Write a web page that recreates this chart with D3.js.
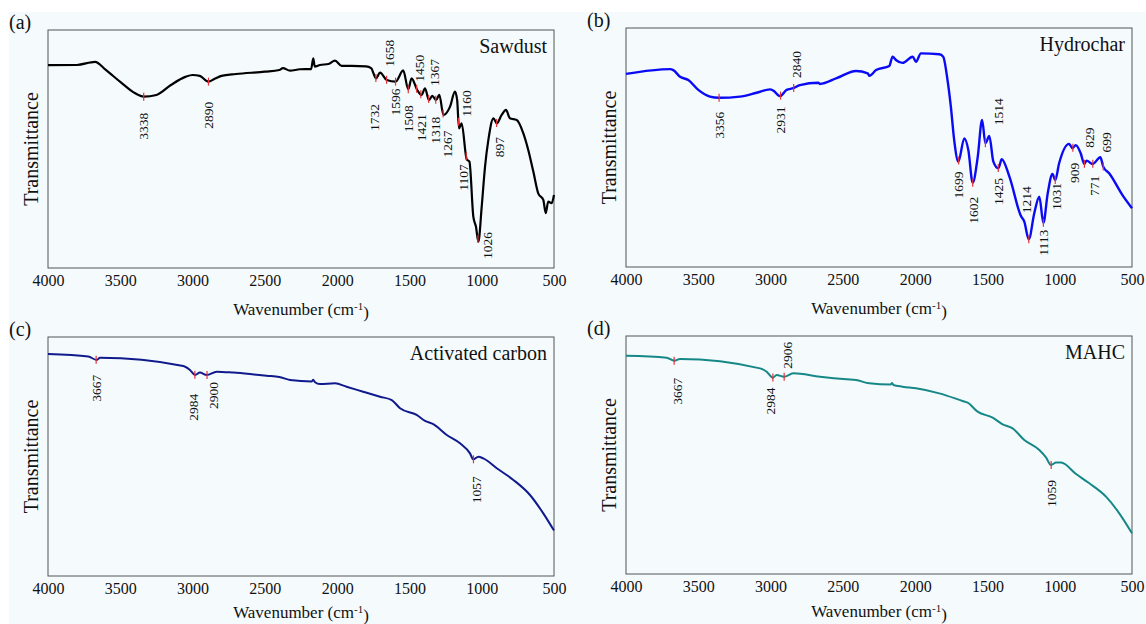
<!DOCTYPE html>
<html>
<head>
<meta charset="utf-8">
<script src="https://cdn.jsdelivr.net/npm/d3@7/dist/d3.min.js"></script>
<style>
  body { margin: 0; background: #fff; }
  text { font-family: "Liberation Serif", "Times New Roman", serif; fill: #111; }
</style>
</head>
<body>
<div id="chart"></div>
<script>
// x axis ticks (wavenumber, cm-1)
var xTicks = [4000, 3500, 3000, 2500, 2000, 1500, 1000, 500];

// (a) Sawdust
var sawdustWave = [4000, 3800, 3675, 3600, 3500, 3400, 3338, 3250, 3150, 3050, 3000, 2950, 2890, 2850, 2800, 2700, 2500, 2400, 2375, 2326, 2257, 2180, 2165, 2155, 2119, 2060, 2015, 1969, 1900, 1800, 1765, 1731, 1703, 1657, 1595, 1543, 1508, 1485, 1446, 1416, 1392, 1365, 1342, 1316, 1293, 1265, 1219, 1185, 1170, 1157, 1139, 1104, 1085, 1058, 1040, 1023, 1000, 977, 954, 919, 896, 862, 832, 805, 758, 712, 678, 643, 609, 574, 557, 540, 517, 500];
var sawdustT = [85.2, 85.3, 86.6, 83.2, 78.2, 73.5, 72.0, 72.7, 76.9, 80.3, 81.1, 80.7, 78.3, 79.4, 80.7, 81.5, 82.5, 83.2, 84.0, 82.9, 83.5, 83.6, 88.1, 84.6, 85.3, 85.7, 87.1, 84.9, 84.9, 84.7, 84.0, 79.7, 82.1, 79.0, 78.3, 83.0, 75.1, 79.7, 74.8, 72.7, 75.5, 70.6, 72.3, 70.6, 72.7, 64.3, 67.8, 74.1, 70.6, 58.7, 60.8, 45.7, 44.7, 21.6, 17.4, 11.1, 25.8, 42.6, 53.8, 62.9, 60.8, 64.3, 66.4, 62.9, 62.2, 56.6, 49.6, 40.5, 31.4, 28.6, 23.0, 27.9, 27.2, 30.7];
var sawdustPeaks = [3338, 2890, 1732, 1658, 1596, 1508, 1450, 1421, 1367, 1318, 1267, 1160, 1107, 1026, 897];

// (b) Hydrochar
var hydrocharWave = [4000, 3694, 3673, 3626, 3569, 3500, 3419, 3357, 3212, 3097, 3004, 2981, 2935, 2889, 2843, 2797, 2670, 2659, 2543, 2409, 2328, 2316, 2270, 2179, 2156, 2133, 2087, 2017, 1994, 1960, 1833, 1806, 1776, 1753, 1730, 1701, 1660, 1632, 1602, 1567, 1537, 1514, 1487, 1459, 1424, 1401, 1348, 1268, 1245, 1214, 1176, 1141, 1113, 1083, 1050, 1031, 1004, 935, 912, 889, 855, 830, 814, 772, 719, 699, 658, 566, 500];
var hydrocharT = [80.8, 82.8, 82.4, 79.6, 78.2, 74.1, 71.3, 70.8, 71.3, 72.9, 74.3, 73.8, 71.5, 74.1, 74.8, 76.1, 77.1, 76.6, 79.0, 82.0, 81.0, 80.0, 82.4, 84.1, 88.0, 86.6, 85.4, 88.0, 85.9, 89.4, 89.0, 88.0, 78.2, 67.1, 53.1, 44.1, 53.8, 48.9, 35.3, 46.1, 61.5, 51.8, 54.8, 44.1, 41.3, 45.1, 37.8, 21.3, 19.0, 11.6, 22.5, 29.4, 18.5, 30.8, 38.9, 36.4, 43.4, 51.5, 49.7, 51.0, 47.6, 43.1, 44.5, 43.1, 45.9, 42.0, 39.2, 30.1, 24.6];
var hydrocharPeaks = [3356, 2931, 2840, 1699, 1602, 1514, 1425, 1214, 1113, 1031, 909, 829, 771, 699];

// (c) Activated carbon
var carbonWave = [4000, 3721, 3663, 3640, 3064, 3018, 2983, 2949, 2902, 2833, 2718, 2603, 2488, 2400, 2326, 2175, 2165, 2155, 2119, 2015, 1935, 1820, 1703, 1622, 1565, 1450, 1392, 1335, 1242, 1150, 1081, 1058, 1023, 989, 896, 781, 666, 574, 500];
var carbonT = [92.9, 91.8, 90.4, 91.3, 87.9, 86.2, 84.1, 85.1, 84.1, 85.5, 85.1, 84.5, 83.8, 83.3, 82.0, 81.4, 82.1, 81.2, 80.3, 80.6, 79.2, 77.1, 75.0, 73.6, 70.2, 67.4, 64.9, 63.5, 59.0, 55.5, 51.3, 48.8, 49.9, 49.2, 45.1, 40.2, 33.9, 26.2, 19.0];
var carbonPeaks = [3667, 2984, 2900, 1057];

// (d) MAHC
var mahcWave = [4000, 3719, 3666, 3627, 3073, 3027, 2985, 2958, 2907, 2843, 2658, 2473, 2409, 2317, 2170, 2160, 2150, 2087, 1994, 1833, 1672, 1637, 1568, 1464, 1395, 1326, 1245, 1141, 1095, 1060, 1025, 991, 887, 795, 680, 588, 500];
var mahcT = [91.7, 90.9, 89.6, 90.3, 86.4, 85.0, 82.5, 83.6, 82.9, 84.3, 82.9, 81.8, 81.5, 80.1, 79.6, 80.3, 79.4, 78.7, 78.0, 75.9, 72.7, 72.0, 68.2, 65.7, 62.9, 61.2, 56.3, 52.1, 49.0, 45.8, 46.8, 46.8, 42.0, 38.1, 32.5, 25.5, 17.1];
var mahcPeaks = [3667, 2984, 2906, 1059];

// label placement next to each peak marker: [side (1 below, -1 above), dx, gap]
var sawdustLay = {3338:[1,0,16], 2890:[1,0,20], 1732:[1,-2,26], 1658:[-1,3,13], 1596:[1,0,7], 1508:[1,0,16], 1450:[-1,3,7], 1421:[1,0,20], 1367:[-1,6,13], 1318:[1,0,17], 1267:[1,4,17], 1160:[-1,8,5], 1107:[1,-3,8], 1026:[1,9,-7], 897:[1,3,14]};
var hydrocharLay = {3356:[1,0,14], 2931:[1,0,11], 2840:[-1,3,10], 1699:[1,0,11], 1602:[1,1,14], 1514:[-1,13,18], 1425:[1,0,10], 1214:[-1,-3,26], 1113:[1,0,7], 1031:[1,1,3], 909:[1,1,15], 829:[-1,5,16], 771:[1,1,12], 699:[-1,3,14]};
var carbonLay = {3667:[1,0,15], 2984:[1,-2,19], 2900:[1,6,7], 1057:[1,3,17]};
var mahcLay = {3667:[1,3,17], 2984:[1,-3,10], 2906:[-1,3,8], 1059:[1,0,15]};

var panels = [
  {tag: "(a)", title: "Sawdust", wave: sawdustWave, t: sawdustT, peaks: sawdustPeaks, lay: sawdustLay,
   color: "#000000", lw: 2.2, box: {x: 48, y: 30, w: 506, h: 238}, xlab: 47},
  {tag: "(b)", title: "Hydrochar", wave: hydrocharWave, t: hydrocharT, peaks: hydrocharPeaks, lay: hydrocharLay,
   color: "#0a0af5", lw: 2.4, box: {x: 626, y: 28, w: 506, h: 239}, xlab: 47},
  {tag: "(c)", title: "Activated carbon", wave: carbonWave, t: carbonT, peaks: carbonPeaks, lay: carbonLay,
   color: "#101a8c", lw: 2, box: {x: 48, y: 337, w: 506, h: 239}, xlab: 42},
  {tag: "(d)", title: "MAHC", wave: mahcWave, t: mahcT, peaks: mahcPeaks, lay: mahcLay,
   color: "#168787", lw: 2, box: {x: 626, y: 336, w: 506, h: 238}, xlab: 43}
];

var svg = d3.select("#chart")
  .append("svg")
  .attr("width", 1146)
  .attr("height", 624);

// light tinted background as in the figure
svg.append("rect")
  .attr("x", 9).attr("y", 12)
  .attr("width", 1137).attr("height", 612)
  .attr("fill", "#f5fbfd");

// linear interpolation of the spectrum at a given wavenumber
function interp(ws, ts, w) {
  for (var i = 0; i < ws.length - 1; i++) {
    if (w <= ws[i] && w >= ws[i + 1]) {
      var f = (ws[i] - w) / (ws[i] - ws[i + 1]);
      return ts[i] + f * (ts[i + 1] - ts[i]);
    }
  }
  return ts[ts.length - 1];
}

panels.forEach(function(p) {
  var b = p.box;
  var x = d3.scaleLinear().domain([4000, 500]).range([b.x, b.x + b.w]);
  var y = d3.scaleLinear().domain([0, 100]).range([b.y + b.h, b.y]);
  var g = svg.append("g");

  // x axis, labels only
  var ax = g.append("g")
    .attr("transform", "translate(0," + (b.y + b.h) + ")")
    .call(d3.axisBottom(x).tickValues(xTicks).tickSize(0).tickPadding(7).tickFormat(d3.format("d")));
  ax.attr("font-family", "'Liberation Serif', 'Times New Roman', serif").attr("font-size", 16);
  ax.select(".domain").remove();
  ax.selectAll("text")
    .style("font-size", "16px")
    .attr("fill", "#111");

  // frame
  g.append("rect")
    .attr("x", b.x).attr("y", b.y)
    .attr("width", b.w).attr("height", b.h)
    .attr("fill", "none")
    .attr("stroke", "#555")
    .attr("stroke-width", 1);

  // spectrum line
  var pts = p.wave.map(function(w, i) { return [w, p.t[i]]; });
  var line = d3.line()
    .x(function(d) { return x(d[0]); })
    .y(function(d) { return y(d[1]); })
    .curve(d3.curveMonotoneX);
  g.append("path")
    .datum(pts)
    .attr("d", line)
    .attr("fill", "none")
    .attr("stroke", p.color)
    .attr("stroke-width", p.lw)
    .attr("stroke-linejoin", "round");

  // peak markers + labels
  p.peaks.forEach(function(pk) {
    var mx = x(pk), my = y(interp(p.wave, p.t, pk));
    g.append("line")
      .attr("x1", mx).attr("x2", mx)
      .attr("y1", my - 4).attr("y2", my + 4)
      .attr("stroke", "#e8303a")
      .attr("stroke-width", 1.2);
    var l = p.lay[pk];
    var ay = l[0] > 0 ? my + l[2] : my - l[2];
    g.append("text")
      .attr("transform", "translate(" + (mx + l[1]) + "," + ay + ") rotate(-90)")
      .attr("text-anchor", l[0] > 0 ? "end" : "start")
      .attr("dy", "0.35em")
      .style("font-size", "13.5px")
      .text(pk);
  });

  // title inside frame
  g.append("text")
    .attr("x", b.x + b.w - 7)
    .attr("y", b.y + 23)
    .attr("text-anchor", "end")
    .style("font-size", "20px")
    .text(p.title);

  // panel tag
  g.append("text")
    .attr("x", b.x - 39)
    .attr("y", b.y - 1)
    .style("font-size", "20px")
    .text(p.tag);

  // y label
  g.append("text")
    .attr("transform", "translate(" + (b.x - 17) + "," + (b.y + b.h / 2) + ") rotate(-90)")
    .attr("text-anchor", "middle")
    .attr("dy", "0.35em")
    .style("font-size", "20px")
    .text("Transmittance");

  // x label
  var xl = g.append("text")
    .attr("x", b.x + b.w / 2)
    .attr("y", b.y + b.h + p.xlab)
    .attr("text-anchor", "middle")
    .style("font-size", "17px");
  xl.append("tspan").text("Wavenumber (cm");
  xl.append("tspan").attr("dy", "-0.45em").style("font-size", "11px").text("-1");
  xl.append("tspan").attr("dy", "0.45em").text(")");
});
</script>
</body>
</html>
